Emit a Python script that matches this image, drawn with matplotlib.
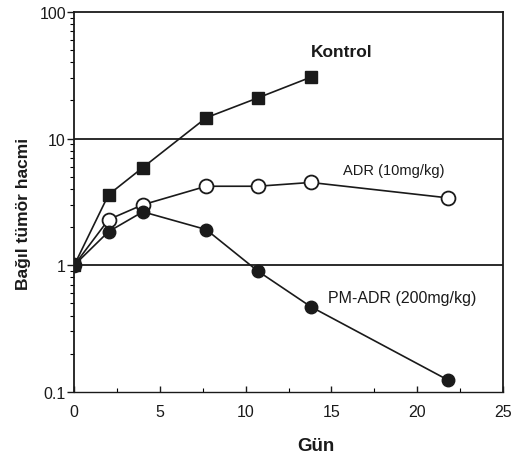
import matplotlib
matplotlib.use("Agg")
import matplotlib.pyplot as plt
from matplotlib.ticker import LogLocator, NullFormatter, FixedLocator

plt.rcParams['font.family'] = ['Liberation Sans', 'DejaVu Sans']

days = [0, 2, 4, 7.7, 10.7, 13.8, 21.8]
kontrol_days = [0, 2, 4, 7.7, 10.7, 13.8]
kontrol = [1.0, 3.6, 5.9, 14.6, 20.9, 30.5]
adr = [1.0, 2.29, 3.0, 4.2, 4.2, 4.5, 3.4]
pm_adr = [1.0, 1.84, 2.64, 1.91, 0.90, 0.47, 0.124]

x_ticks = [0, 5, 10, 15, 20, 25]
y_ticks = [0.1, 1, 10, 100]
y_ticklabels = ["0.1", "1", "10", "100"]

fig = plt.figure(figsize=(5.12, 4.6), dpi=100)
ax = fig.add_axes([0.145, 0.146, 0.837, 0.826])

ink = "#1a1a1a"
ax.plot(kontrol_days, kontrol, color=ink, lw=1.2, marker='s', ms=8,
        mfc=ink, mec=ink, zorder=3)
ax.plot(days, adr, color=ink, lw=1.2, marker='o', ms=10,
        mfc='white', mec=ink, mew=1.3, zorder=3)
ax.plot(days, pm_adr, color=ink, lw=1.2, marker='o', ms=9,
        mfc=ink, mec=ink, zorder=4)

ax.set_yscale('log')
ax.set_ylim(0.1, 100)
ax.set_xlim(0, 25)
ax.set_yticks(y_ticks)
ax.set_yticklabels(y_ticklabels)
ax.yaxis.set_minor_locator(LogLocator(base=10, subs=range(2, 10)))
ax.yaxis.set_minor_formatter(NullFormatter())
ax.set_xticks(x_ticks)
ax.xaxis.set_minor_locator(FixedLocator([2.5, 7.5, 12.5, 17.5, 22.5]))

ax.tick_params(axis='y', which='major', direction='out', length=5, width=1,
               labelsize=11.5, colors=ink, pad=1)
ax.tick_params(axis='y', which='minor', direction='out', length=3, width=0.8)
ax.tick_params(axis='x', which='major', direction='in', length=4, width=1,
               labelsize=11.5, colors=ink, pad=9)
ax.tick_params(axis='x', which='minor', direction='in', length=3, width=0.8)

for s in ax.spines.values():
    s.set_color(ink)
    s.set_linewidth(1.3)
ax.spines['bottom'].set_linewidth(1.0)

for yv in [1, 10]:
    ax.axhline(yv, color=ink, lw=1.3, zorder=1)

ax.set_xlabel("Gün", fontsize=13.5, fontweight='bold', color=ink)
ax.set_ylabel("Bağıl tümör hacmi", fontsize=12.5, fontweight='bold', color=ink)
ax.xaxis.set_label_coords(0.565, -0.118)
ax.yaxis.set_label_coords(-0.10, 0.47)

ax.text(15.6, 49, "Kontrol", fontsize=12.5, fontweight='bold', color=ink,
        ha='center', va='center')
ax.text(15.7, 5.6, "ADR (10mg/kg)", fontsize=10.5, color=ink,
        ha='left', va='center')
ax.text(14.8, 0.56, "PM-ADR (200mg/kg)", fontsize=11.5, color=ink,
        ha='left', va='center')

fig.savefig("out.png", dpi=100)
